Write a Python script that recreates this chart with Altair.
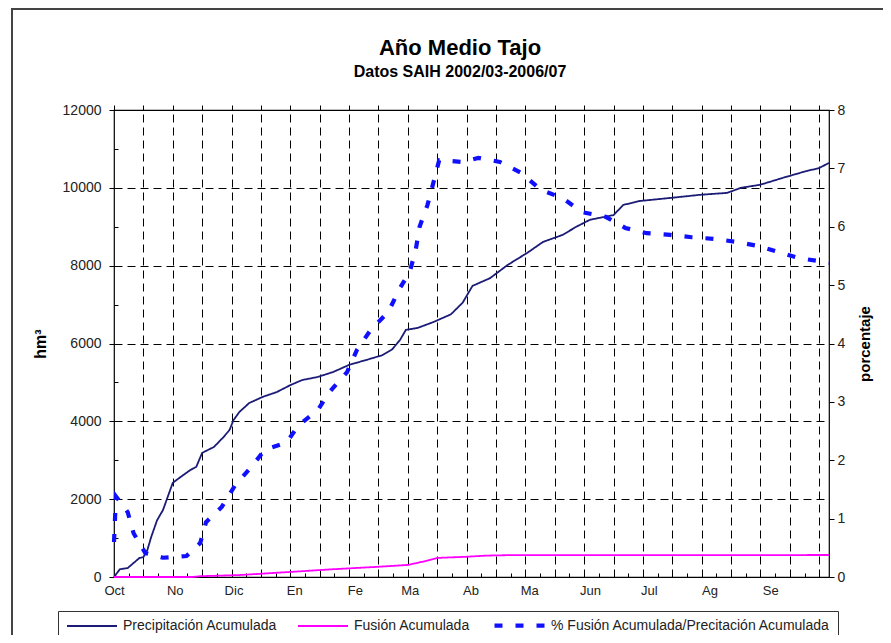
import altair as alt
import pandas as pd

title_text = "Año Medio Tajo"
subtitle_text = "Datos SAIH 2002/03-2006/07"

series_names = ["Precipitación Acumulada", "Fusión Acumulada",
                "% Fusión Acumulada/Precitación Acumulada"]
series_colors = ["#1c1c78", "#ff00ff", "#1010ff"]

# day of hydrological year (0 = 1 Oct) and accumulated precipitation (hm3)
precip_day = [0, 3, 7, 10, 13, 15, 17, 19, 22, 25, 27, 30, 34, 39, 42, 45, 51, 56, 59, 61,
              64, 69, 76, 83, 90, 96, 104, 112, 120, 129, 137, 142, 146, 149, 155, 163, 172, 178, 183, 192,
              201, 211, 219, 229, 236, 243, 255, 260, 268, 284, 299, 313, 320, 330, 341, 352, 360, 365]
precip_val = [0, 200, 230, 360, 490, 510, 690, 1030, 1460, 1720, 2000, 2420, 2570, 2750, 2830, 3190, 3340, 3600, 3780, 4030,
              4240, 4470, 4630, 4750, 4930, 5060, 5140, 5270, 5450, 5580, 5700, 5850, 6090, 6350, 6400, 6550, 6750, 7050, 7480, 7680,
              8020, 8330, 8610, 8790, 9000, 9180, 9300, 9560, 9660, 9740, 9820, 9870, 10000, 10080, 10250, 10410, 10510, 10640]

# accumulated snow melt (hm3)
fusion_day = [0, 40, 44, 64, 90, 112, 134, 150, 160, 165, 180, 190, 200, 365]
fusion_val = [0, 0, 20, 50, 130, 200, 260, 310, 420, 490, 520, 550, 560, 565]

# % melt / precipitation
pct_day = [0, 1, 4, 7, 10, 16, 25, 37, 44, 47, 55, 62, 70, 77, 88, 94, 104, 110, 119, 124,
           131, 140, 146, 151, 154, 156, 160, 163, 166, 178, 186, 197, 208, 218, 229, 239, 251, 261, 272, 284,
           295, 307, 318, 329, 339, 350, 362, 365]
pct_val = [0.6, 1.38, 1.25, 1.11, 0.75, 0.41, 0.33, 0.36, 0.58, 0.94, 1.2, 1.58, 1.88, 2.18, 2.30, 2.59, 2.86, 3.17, 3.51, 3.89,
           4.23, 4.54, 4.95, 5.23, 5.6, 6.0, 6.37, 6.75, 7.14, 7.11, 7.18, 7.11, 6.92, 6.63, 6.49, 6.25, 6.17, 5.98, 5.89, 5.86,
           5.82, 5.79, 5.74, 5.67, 5.57, 5.46, 5.4, 5.38]

month_days = [0, 31, 61, 92, 123, 151, 182, 212, 243, 273, 304, 335]
month_labels = ["Oct", "No", "Dic", "En", "Fe", "Ma", "Ab", "Ma", "Jun", "Jul", "Ag", "Se"]
grid_days = [15 * i for i in range(0, 25)]
minor_days = [7.5 + 15 * i for i in range(0, 24)]
left_ticks = [1000 * i for i in range(0, 13)]
right_ticks = list(range(0, 9))

rows = []
for d, v in zip(precip_day, precip_val):
    rows.append({"dia": d, "valor": v, "serie": series_names[0]})
for d, v in zip(fusion_day, fusion_val):
    rows.append({"dia": d, "valor": v, "serie": series_names[1]})
for d, v in zip(pct_day, pct_val):
    rows.append({"dia": d, "valor": v, "serie": series_names[2]})
df = pd.DataFrame(rows)

W, H = 715, 467
FONT = "Liberation Sans"

legend = alt.Legend(title=None, orient="none", legendX=-56, legendY=501, direction="horizontal",
                    symbolType="M-5,0H5", symbolSize=100, symbolOffset=20,
                    labelFontSize=14, labelFont=FONT,
                    labelColor="#222", columnPadding=16, padding=7, strokeColor="#333",
                    labelLimit=500, labelOffset=24)

color_enc = alt.Color("serie:N", scale=alt.Scale(domain=series_names, range=series_colors), legend=legend)
dash_enc = alt.StrokeDash("serie:N", scale=alt.Scale(type="ordinal", domain=series_names,
                                                      range=[[1, 0], [1, 0], [8, 13]]), legend=legend)
width_enc = alt.StrokeWidth("serie:N", scale=alt.Scale(type="ordinal", domain=series_names,
                                                        range=[1.8, 1.8, 4.2]), legend=legend)

xscale = alt.Scale(domain=[0, 365], nice=False, zero=False)
month_expr = "[" + ",".join("'%s'" % m for m in month_labels) + "][indexof([" + \
    ",".join(str(d) for d in month_days) + "], datum.value)]"

base = alt.Chart(df)

precip = base.transform_filter(alt.datum.serie == series_names[0]).mark_line().encode(
    x=alt.X("dia:Q", scale=xscale,
            axis=alt.Axis(values=month_days, labelExpr=month_expr, ticks=False, grid=False, domain=False,
                          labelFlush=False, labelFontSize=13, labelPadding=7, title=None)),
    y=alt.Y("valor:Q", scale=alt.Scale(domain=[0, 12000], nice=False),
            axis=alt.Axis(values=left_ticks, format="d",
                          labelExpr="datum.value % 2000 == 0 ? datum.label : ''",
                          tickSize={"condition": {"test": "datum.value % 2000 == 0", "value": 5}, "value": 0},
                          gridOpacity={"condition": {"test": "datum.value % 2000 == 0 && datum.value > 0 && datum.value < 12000",
                                                     "value": 1}, "value": 0},
                          grid=True, domain=False, labelPadding=8, labelFontSize=14,
                          title="hm³", titleFontSize=16, titleFontWeight="bold", titlePadding=14)),
    color=color_enc, strokeDash=dash_enc, strokeWidth=width_enc,
)

fusion = base.transform_filter(alt.datum.serie == series_names[1]).mark_line().encode(
    x=alt.X("dia:Q", scale=xscale,
            axis=alt.Axis(values=grid_days, labels=False, domain=False, tickSize=5, title=None,
                          grid=True,
                          gridOpacity={"condition": {"test": "datum.value > 0", "value": 1}, "value": 0})),
    y=alt.Y("valor:Q", scale=alt.Scale(domain=[0, 12000], nice=False),
            axis=alt.Axis(orient="right", offset=-W, values=left_ticks, labels=False, domain=False,
                          grid=False, tickSize=4, title=None)),
    color=color_enc, strokeDash=dash_enc, strokeWidth=width_enc,
)

pct = base.transform_filter(alt.datum.serie == series_names[2]).mark_line().encode(
    x=alt.X("dia:Q", scale=xscale,
            axis=alt.Axis(orient="top", offset=-H, values=minor_days, labels=False, domain=False,
                          grid=False, tickSize=4, title=None)),
    y=alt.Y("valor:Q", scale=alt.Scale(domain=[0, 8], nice=False),
            axis=alt.Axis(orient="right", values=right_ticks, grid=False, domain=False, tickSize=5,
                          labelPadding=3, labelFontSize=14,
                          title="porcentaje", titleFontSize=15, titleFontWeight="bold",
                          titleAngle=270, titlePadding=28)),
    color=color_enc, strokeDash=dash_enc, strokeWidth=width_enc,
)

frame_df = pd.DataFrame({"k": [0]})
frame_top = alt.Chart(frame_df).mark_rule(color="#444", strokeWidth=2).encode(
    x=alt.value(-103), x2=alt.value(770), y=alt.value(-101))
frame_left = alt.Chart(frame_df).mark_rule(color="#444", strokeWidth=2).encode(
    x=alt.value(-102), y=alt.value(-102), y2=alt.value(540))

title_mark = alt.Chart(pd.DataFrame({"t": [title_text]})).mark_text(
    font=FONT, fontSize=22, fontWeight="bold", color="black", align="center", baseline="alphabetic"
).encode(text="t:N", x=alt.value(346), y=alt.value(-55))
subtitle_mark = alt.Chart(pd.DataFrame({"t": [subtitle_text]})).mark_text(
    font=FONT, fontSize=16, fontWeight="bold", color="black", align="center", baseline="alphabetic"
).encode(text="t:N", x=alt.value(346), y=alt.value(-33))

chart = alt.layer(frame_top, frame_left, title_mark, subtitle_mark, precip, fusion, pct).resolve_scale(
    y="independent"
).resolve_axis(
    x="independent", y="independent"
).properties(
    width=W, height=H,
    autosize=alt.AutoSizeParams(type="none"),
    padding={"left": 106, "top": 102, "right": 54, "bottom": 58},
).configure(
    font=FONT, background="white"
).configure_view(
    stroke="black", strokeWidth=1.2
).configure_axis(
    labelFont=FONT, titleFont=FONT, labelColor="#222", titleColor="black",
    tickColor="black", gridColor="black", gridDash=[8, 5], gridWidth=1
)

chart.save("out.html", embed_options={"renderer": "svg", "actions": False})
